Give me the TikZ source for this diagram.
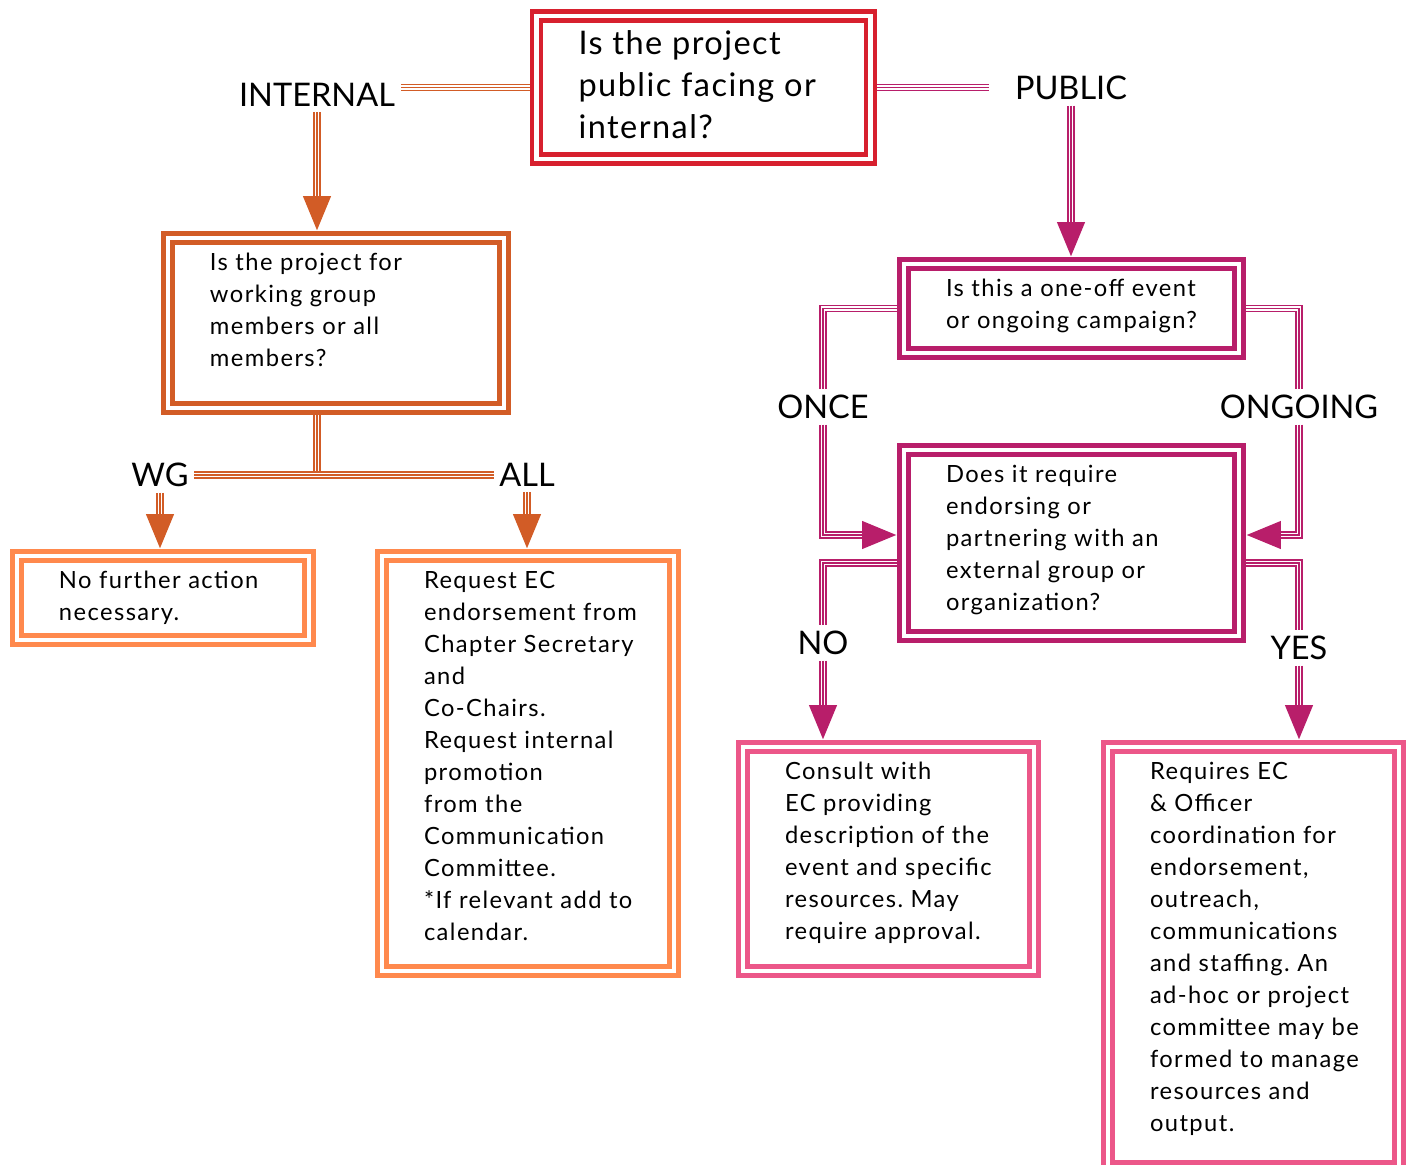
\documentclass[tikz,border=0pt]{standalone}
\usepackage{fontspec}
\setmainfont{Lato}
\frenchspacing
\usetikzlibrary{arrows.meta, positioning}
\definecolor{questred}{RGB}{215,32,46}
\definecolor{burntorange}{RGB}{210,92,38}
\definecolor{softorange}{RGB}{255,137,77}
\definecolor{deepmagenta}{RGB}{184,30,106}
\definecolor{rosepink}{RGB}{236,87,137}

\begin{document}
\begin{tikzpicture}[
    % Global Styles
    font=\fontsize{13.5}{18.2}\selectfont,
    % Node Styles
    qbox/.style={
        rectangle,
        draw=#1,
        line width=2.6pt,
        double=white,
        double distance=2.6pt,
        outer sep=3.9pt,
        inner sep=0pt
    },
    boxtext/.style={
        inner sep=0pt,
        align=left,
        font=\fontsize{13.5}{18.2}\selectfont\addfontfeatures{LetterSpace=6},
        execute at begin node=\strut
    },
    bigtext/.style={font=\fontsize{18.5}{23.9}\selectfont\addfontfeatures{LetterSpace=4.5}},
    answer/.style={
        inner sep=3pt,
        font=\fontsize{18.5}{22}\selectfont
    },
    % Connector Styles
    triple/.style={
        draw=#1,
        line width=4pt,
        postaction={draw=white, line width=2.4pt},
        postaction={draw=#1, line width=0.8pt}
    },
    triplearrow/.style={
        draw=#1,
        line width=4pt,
        -{Triangle[length=0.7cm, width=0.52cm]},
        postaction={draw=white, line width=2.4pt, -, shorten >=0.7cm},
        postaction={draw=#1, line width=0.8pt, -, shorten >=0.7cm}
    }
]
    \useasboundingbox (0,0) rectangle (28.22,-23.30);

    % --- Question boxes ---
    \node[qbox=questred, minimum width=6.68cm, minimum height=2.86cm] (q1) at (14.07,-1.75) {};
    \node[boxtext, bigtext, below right=0.43cm and 0.97cm of q1.north west] (q1txt) {Is the project\\public facing or\\internal?};

    \node[qbox=burntorange, minimum width=6.72cm, minimum height=3.40cm] (q2) at (6.72,-6.46) {};
    \node[boxtext, below right=0.43cm and 0.97cm of q2.north west] (q2txt) {Is the project for\\working group\\members or all\\members?};

    \node[qbox=deepmagenta, minimum width=6.70cm, minimum height=1.78cm] (q3) at (21.43,-6.17) {};
    \node[boxtext, below right=0.43cm and 0.97cm of q3.north west] (q3txt) {Is this a one-off event\\or ongoing campaign?};

    \node[qbox=deepmagenta, minimum width=6.70cm, minimum height=3.72cm] (q4) at (21.43,-10.86) {};
    \node[boxtext, below right=0.43cm and 0.97cm of q4.north west] (q4txt) {Does it require\\endorsing or\\partnering with an\\external group or\\organization?};

    % --- Outcome boxes ---
    \node[qbox=softorange, minimum width=5.84cm, minimum height=1.68cm] (nwg) at (3.26,-11.96) {};
    \node[boxtext, below right=0.43cm and 0.97cm of nwg.north west] (nwgtxt) {No further action\\necessary.};

    \node[qbox=softorange, minimum width=5.84cm, minimum height=8.30cm] (nall) at (10.56,-15.27) {};
    \node[boxtext, below right=0.43cm and 0.97cm of nall.north west] (nalltxt) {Request EC\\endorsement from\\Chapter Secretary\\and\\Co-Chairs.\\Request internal\\promotion\\from the\\Communication\\Committee.\\*If relevant add to\\calendar.};

    \node[qbox=rosepink, minimum width=5.82cm, minimum height=4.48cm] (nno) at (17.77,-17.18) {};
    \node[boxtext, below right=0.43cm and 0.97cm of nno.north west] (nnotxt) {Consult with\\EC providing\\description of the\\event and specific\\resources. May\\require approval.};

    \node[qbox=rosepink, minimum width=5.82cm, minimum height=8.40cm] (nyes) at (25.07,-19.14) {};
    \node[boxtext, below right=0.43cm and 0.97cm of nyes.north west] (nyestxt) {Requires EC\\\& Officer\\coordination for\\endorsement,\\outreach,\\communications\\and staffing. An\\ad-hoc or project\\committee may be\\formed to manage\\resources and\\output.};

    % --- Answer labels ---
    \node[answer] (internal) at (6.34,-1.90) {INTERNAL};
    \node[answer] (public) at (21.42,-1.76) {PUBLIC};
    \node[answer] (wg) at (3.20,-9.50) {WG};
    \node[answer] (all) at (10.54,-9.50) {ALL};
    \node[answer] (once) at (16.46,-8.14) {ONCE};
    \node[answer] (ongoing) at (25.98,-8.14) {ONGOING};
    \node[answer] (no) at (16.46,-12.86) {NO};
    \node[answer] (yes) at (25.98,-12.96) {YES};

    % --- Internal branch ---
    \draw[triple=burntorange] (q1.west) -- (q1.west -| internal.east);
    \draw[triplearrow=burntorange] (internal.south) -- (internal.south |- q2.north);
    \draw[triple=burntorange] (internal.south |- q2.south) -- (internal.south |- wg.east);
    \draw[triple=burntorange] (wg.east) -- (all.west);
    \draw[triplearrow=burntorange] (wg.south) -- (wg.south |- nwg.north);
    \draw[triplearrow=burntorange] (all.south) -- (all.south |- nall.north);

    % --- Public branch ---
    \draw[triple=deepmagenta] (q1.east) -- ([xshift=-0.4cm]q1.east -| public.west);
    \draw[triplearrow=deepmagenta] (public.south) -- (public.south |- q3.north);
    \draw[triple=deepmagenta] (q3.west) -| (once.north);
    \draw[triplearrow=deepmagenta] (once.south) |- ([yshift=0.16cm]q4.west);
    \draw[triple=deepmagenta] (q3.east) -| (ongoing.north);
    \draw[triplearrow=deepmagenta] (ongoing.south) |- ([yshift=0.16cm]q4.east);
    \draw[triple=deepmagenta] ([yshift=-0.4cm]q4.west) -| (no.north);
    \draw[triplearrow=deepmagenta] (no.south) -- (no.south |- nno.north);
    \draw[triple=deepmagenta] ([yshift=-0.4cm]q4.east) -| (yes.north);
    \draw[triplearrow=deepmagenta] (yes.south) -- (yes.south |- nyes.north);

\end{tikzpicture}
\end{document}
